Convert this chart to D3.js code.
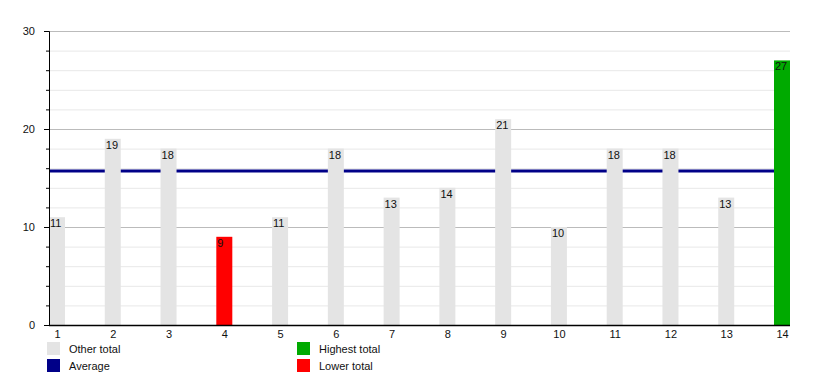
<!DOCTYPE html>
<html>
<head>
<meta charset="utf-8">
<script src="https://cdn.jsdelivr.net/npm/d3@7"></script>
<style>
  body { margin: 0; background: #fff; }
  text { font-family: "Liberation Sans", Arial, sans-serif; font-size: 11px; fill: #111; }
</style>
</head>
<body>
<div class="chart"></div>
<script>
var categories = ["1","2","3","4","5","6","7","8","9","10","11","12","13","14"];
var totals = [11, 19, 18, 9, 11, 18, 13, 14, 21, 10, 18, 18, 13, 27];
var yTicks = [0, 10, 20, 30];
var legendItems = [
	{ name: "Other total", color: "#e4e4e4" },
	{ name: "Average", color: "#000088" },
	{ name: "Highest total", color: "#00aa00" },
	{ name: "Lower total", color: "#ff0000" }
];

var width = 818, height = 375;
var margin = {top: 31, right: 28, bottom: 50, left: 49};
var plotW = width - margin.left - margin.right;
var plotH = height - margin.top - margin.bottom;
var barW = 16;

var svg = d3.select(".chart").append("svg")
	.attr("width", width)
	.attr("height", height);

var g = svg.append("g")
	.attr("transform", "translate(" + margin.left + "," + margin.top + ")");

var x = d3.scalePoint().domain(categories).range([barW / 2, plotW - barW / 2]);
var y = d3.scaleLinear().domain([0, 30]).range([plotH, 0]);

// minor grid every 2, major every 10
var minor = d3.range(2, 30, 2).filter(function (d) { return d % 10 != 0; });

g.append("g").selectAll("line")
	.data(minor)
	.enter().append("line")
	.attr("x1", 0).attr("x2", plotW)
	.attr("y1", function (d) { return y(d) + 0.5; })
	.attr("y2", function (d) { return y(d) + 0.5; })
	.attr("stroke", "#e8e8e8");

g.append("g").selectAll("line")
	.data(yTicks.slice(1))
	.enter().append("line")
	.attr("x1", 0).attr("x2", plotW)
	.attr("y1", function (d) { return y(d) + 0.5; })
	.attr("y2", function (d) { return y(d) + 0.5; })
	.attr("stroke", "#bbbbbb");

// average line
var avg = d3.mean(totals);
g.append("line")
	.attr("x1", 0).attr("x2", plotW)
	.attr("y1", y(avg)).attr("y2", y(avg))
	.attr("stroke", legendItems[1].color)
	.attr("stroke-width", 3);

var maxV = d3.max(totals), minV = d3.min(totals);
function barColor(d) {
	if (d == maxV) return legendItems[2].color;
	if (d == minV) return legendItems[3].color;
	return legendItems[0].color;
}

var bars = g.selectAll(".bar")
	.data(totals)
	.enter().append("g")
	.attr("class", "bar");

bars.append("rect")
	.attr("x", function (d, i) { return x(categories[i]) - barW / 2; })
	.attr("y", function (d) { return y(d); })
	.attr("width", barW)
	.attr("height", function (d) { return plotH - y(d); })
	.attr("fill", barColor);

bars.append("text")
	.attr("x", function (d, i) { return x(categories[i]) - barW / 2 + 1; })
	.attr("y", function (d) { return y(d) + 10; })
	.text(function (d) { return d; });

// axes
var yAxis = g.append("g")
	.call(d3.axisLeft(y).tickValues(yTicks).tickSize(5).tickPadding(9));
yAxis.select(".domain").attr("stroke", "#000");
yAxis.selectAll(".tick line").attr("stroke", "#000");

g.append("g").selectAll("line")
	.data(minor)
	.enter().append("line")
	.attr("x1", -3).attr("x2", 0)
	.attr("y1", function (d) { return y(d) + 0.5; })
	.attr("y2", function (d) { return y(d) + 0.5; })
	.attr("stroke", "#000");

var xAxis = g.append("g")
	.attr("transform", "translate(0," + plotH + ")")
	.call(d3.axisBottom(x).tickSize(0).tickPadding(5));
xAxis.select(".domain").attr("d", "M0,0.5H" + plotW).attr("stroke", "#000").attr("stroke-width", 1.5);

svg.selectAll(".tick text").style("font-size", "11px").attr("fill", "#111");

// legend
var legend = svg.append("g").selectAll(".legend")
	.data(legendItems)
	.enter().append("g")
	.attr("transform", function (d, i) {
		return "translate(" + (47 + Math.floor(i / 2) * 250) + "," + (342 + (i % 2) * 17) + ")";
	});

legend.append("rect")
	.attr("width", 13).attr("height", 13)
	.attr("fill", function (d) { return d.color; });

legend.append("text")
	.attr("x", 22).attr("y", 11)
	.text(function (d) { return d.name; });
</script>
</body>
</html>
